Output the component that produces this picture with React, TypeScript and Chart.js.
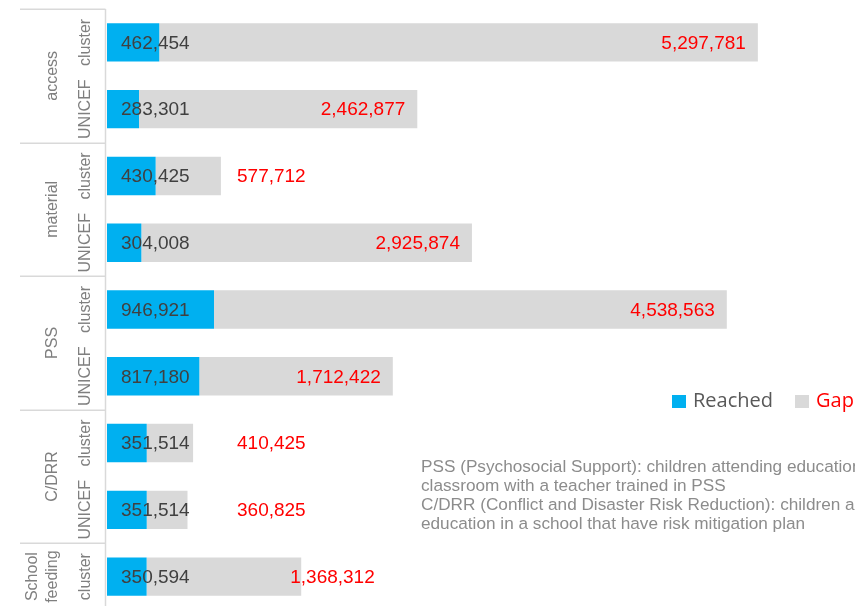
import React, { useEffect, useRef } from "react";
import { Chart, registerables } from "chart.js";

Chart.register(...registerables);

// ---- data ----
const groupLabels: string[][] = [["access"], ["material"], ["PSS"], ["C/DRR"], ["School", "feeding"]];
const groupSizes: number[] = [2, 2, 2, 2, 1];
const subLabels: string[] = ["cluster", "UNICEF", "cluster", "UNICEF", "cluster", "UNICEF", "cluster", "UNICEF", "cluster"];
const reached: number[] = [462454, 283301, 430425, 304008, 946921, 817180, 351514, 351514, 350594];
const gap: number[] = [5297781, 2462877, 577712, 2925874, 4538563, 1712422, 410425, 360825, 1368312];
const seriesNames: string[] = ["Reached", "Gap"];
const notes: string[] = [
  "PSS (Psychosocial Support): children attending education in a",
  "classroom with a teacher trained in PSS",
  "C/DRR (Conflict and Disaster Risk Reduction): children attending",
  "education in a school that have risk mitigation plan",
];
const xMax = 6620000;

// ---- styles ----
const BLUE = "#00B0F0";
const GREY = "#D9D9D9";
const RED = "#FF0000";
const AXIS_TEXT = "#7F7F7F";
const VALUE_TEXT = "#404040";
const LINE = "#D9D9D9";
const ARIAL = "'Liberation Sans', Arial, sans-serif";

const fmt = (v: number) => v.toLocaleString("en-US");

const overlayPlugin = {
  id: "overlay",
  afterDraw(chart: any) {
    const { ctx, chartArea: ca, scales } = chart;
    const x = scales.x;
    const y = scales.y;
    const n = subLabels.length;
    const slot = (ca.bottom - ca.top) / n;
    const axisX = ca.left - 1.5;
    const leftEdge = 20;

    ctx.save();
    // axis line
    ctx.strokeStyle = LINE;
    ctx.lineWidth = 1.5;
    ctx.beginPath();
    ctx.moveTo(axisX, ca.top);
    ctx.lineTo(axisX, ca.bottom);
    ctx.stroke();

    // group dividers
    let cum = 0;
    const bounds: number[] = [0];
    groupSizes.forEach((s) => {
      cum += s;
      bounds.push(cum);
    });
    bounds.forEach((b) => {
      const yy = Math.round(ca.top + slot * b) + 0.25;
      ctx.beginPath();
      ctx.moveTo(leftEdge, yy);
      ctx.lineTo(axisX, yy);
      ctx.stroke();
    });

    // sub labels (rotated)
    ctx.fillStyle = AXIS_TEXT;
    ctx.font = `16px ${ARIAL}`;
    ctx.textAlign = "center";
    ctx.textBaseline = "alphabetic";
    subLabels.forEach((lab, i) => {
      const cy = y.getPixelForValue(i);
      ctx.save();
      ctx.translate(90, cy);
      ctx.rotate(-Math.PI / 2);
      ctx.fillText(lab, 0, 0);
      ctx.restore();
    });

    // group labels (rotated)
    groupLabels.forEach((lines, gi) => {
      const cy = ca.top + slot * (bounds[gi] + bounds[gi + 1]) / 2;
      lines.forEach((ln, li) => {
        const bx = 56.5 - (lines.length - 1 - li) * 19.5;
        ctx.save();
        ctx.translate(bx, cy);
        ctx.rotate(-Math.PI / 2);
        ctx.fillText(ln, 0, 0);
        ctx.restore();
      });
    });

    // value labels
    ctx.font = `19px ${ARIAL}`;
    ctx.textBaseline = "middle";
    reached.forEach((r, i) => {
      const cy = y.getPixelForValue(i) + 1;
      ctx.textAlign = "left";
      ctx.fillStyle = VALUE_TEXT;
      ctx.fillText(fmt(r), ca.left + 14, cy);

      const txt = fmt(gap[i]);
      const w = ctx.measureText(txt).width;
      const start = x.getPixelForValue(r);
      const end = x.getPixelForValue(r + gap[i]);
      let left: number;
      if (end - start >= w + 100) left = end - 12 - w;
      else left = Math.max(end - 11, ca.left + 130);
      ctx.fillStyle = RED;
      ctx.fillText(txt, left, cy);
    });

    // legend
    ctx.font = `20px 'Open Sans', sans-serif`;
    ctx.textBaseline = "middle";
    ctx.textAlign = "left";
    const legY = 401;
    const items = [
      { name: seriesNames[0], box: BLUE, color: "#595959", x: 672 },
      { name: seriesNames[1], box: GREY, color: RED, x: 795 },
    ];
    items.forEach((it) => {
      ctx.fillStyle = it.box;
      ctx.fillRect(it.x, legY - 6, 14, 13);
      ctx.fillStyle = it.color;
      ctx.fillText(it.name, it.x + 21, legY);
    });

    // notes
    ctx.font = `17.2px ${ARIAL}`;
    ctx.fillStyle = "#8C8C8C";
    ctx.textBaseline = "alphabetic";
    notes.forEach((ln, i) => {
      ctx.fillText(ln, 421, 472 + i * 19);
    });
    ctx.restore();
  },
};

export default function App() {
  const ref = useRef<HTMLCanvasElement | null>(null);
  useEffect(() => {
    if (!ref.current) return;
    const chart = new Chart(ref.current, {
      type: "bar",
      data: {
        labels: subLabels,
        datasets: [
          { label: seriesNames[0], data: reached, backgroundColor: BLUE, borderWidth: 0 },
          { label: seriesNames[1], data: gap, backgroundColor: GREY, borderWidth: 0 },
        ],
      },
      options: {
        indexAxis: "y",
        animation: false,
        responsive: false,
        maintainAspectRatio: false,
        devicePixelRatio: 1,
        layout: { padding: { left: 107, top: 9, right: 0, bottom: 2 } },
        datasets: { bar: { categoryPercentage: 1, barPercentage: 0.575 } },
        scales: {
          x: { stacked: true, display: false, min: 0, max: xMax },
          y: { stacked: true, display: false },
        },
        plugins: {
          legend: { display: false },
          tooltip: { enabled: false },
          title: { display: false },
        },
      },
      plugins: [overlayPlugin],
    });
    return () => chart.destroy();
  }, []);
  return (
    <div style={{ position: "fixed", left: 0, top: 0, width: 855, height: 606, overflow: "hidden", background: "#fff" }}>
      <canvas ref={ref} width={855} height={612} style={{ display: "block", width: 855, height: 612 }} />
    </div>
  );
}
